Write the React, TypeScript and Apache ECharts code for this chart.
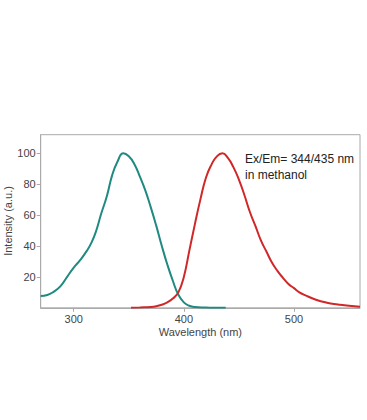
import React, { useEffect, useRef } from "react";
import * as echarts from "echarts";

const exWavelengths = [270, 276, 282, 288, 294, 300, 306, 312, 316, 320, 325, 330, 335, 340, 345, 350, 355, 360, 365, 370, 375, 380, 385, 390, 395, 400, 405, 410, 420, 430, 438];
const exIntensity = [7.7, 8.3, 10.5, 14, 20, 26, 31, 37, 42, 49, 61, 72, 86, 95, 100, 98, 93, 85, 76, 65, 53, 40, 28, 17.5, 8.5, 3.5, 1.3, 0.5, 0.2, 0, 0];

const emWavelengths = [352, 360, 370, 375, 380, 385, 390, 395, 400, 405, 410, 415, 420, 425, 430, 435, 440, 445, 450, 455, 460, 465, 470, 475, 480, 485, 490, 495, 500, 505, 510, 520, 530, 540, 550, 560];
const emIntensity = [0, 0.2, 0.5, 1, 2, 3.5, 6, 10, 20, 37, 54, 70, 84, 92.5, 98, 100, 97, 91, 83, 73, 62, 53, 43.6, 36.4, 29.3, 23.9, 19.4, 15.4, 12.7, 10, 8.2, 5.2, 3.3, 2.2, 1.3, 0.7];

const xTicks = [300, 400, 500];
const yTicks = [20, 40, 60, 80, 100];
const annotation = ["Ex/Em= 344/435 nm", "in methanol"];
const yTitle = "Intensity (a.u.)";

export default function App() {
  const ref = useRef<HTMLDivElement>(null);
  useEffect(() => {
    if (!ref.current) return;
    const chart = echarts.init(ref.current, null, { renderer: "svg" });
    const font = "'Liberation Sans', Arial, sans-serif";
    const axisColor = "#aaaaaa";
    chart.setOption({
      animation: false,
      backgroundColor: "#ffffff",
      grid: {
        left: 40.7,
        top: 134.7,
        width: 319.3,
        height: 173.1,
        containLabel: false,
        outerBoundsMode: "none",
        show: true,
        borderColor: axisColor,
        borderWidth: 1,
      },
      xAxis: {
        type: "value",
        min: 270,
        max: 560,
        name: "Wavelength (nm)",
        nameLocation: "middle",
        nameGap: 19,
        nameTextStyle: { color: "#444", fontFamily: font, fontSize: 11 },
        axisLine: { show: true, lineStyle: { color: axisColor } },
        axisTick: { show: true, customValues: xTicks, length: 4, lineStyle: { color: axisColor } },
        axisLabel: { customValues: xTicks, color: "#444", fontFamily: font, fontSize: 11, margin: 6 },
        splitLine: { show: false },
      },
      yAxis: {
        type: "value",
        min: 0,
        max: 112,
        axisLine: { show: true, lineStyle: { color: axisColor } },
        axisTick: { show: true, customValues: yTicks, length: 4, lineStyle: { color: axisColor } },
        axisLabel: { customValues: yTicks, color: "#444", fontFamily: font, fontSize: 11, margin: 5 },
        splitLine: { show: false },
      },
      graphic: [
        {
          type: "text",
          x: 7.5,
          y: 221,
          rotation: Math.PI / 2,
          style: {
            text: yTitle,
            fill: "#444",
            font: `11px ${font}`,
            align: "center",
            verticalAlign: "middle",
          },
        },
        {
          type: "text",
          left: 245,
          top: 151,
          style: {
            text: annotation.join("\n"),
            fill: "#222",
            font: `12px ${font}`,
            lineHeight: 16,
          },
        },
      ],
      series: [
        {
          type: "line",
          data: exWavelengths.map((x, i) => [x, exIntensity[i]]),
          smooth: true,
          showSymbol: false,
          lineStyle: { color: "#1f8a80", width: 2 },
        },
        {
          type: "line",
          data: emWavelengths.map((x, i) => [x, emIntensity[i]]),
          smooth: true,
          showSymbol: false,
          lineStyle: { color: "#d02828", width: 2 },
        },
      ],
    });
    return () => chart.dispose();
  }, []);
  return (
    <div
      ref={ref}
      style={{ position: "absolute", left: 0, top: 0, width: 367, height: 420, background: "#fff" }}
    />
  );
}
